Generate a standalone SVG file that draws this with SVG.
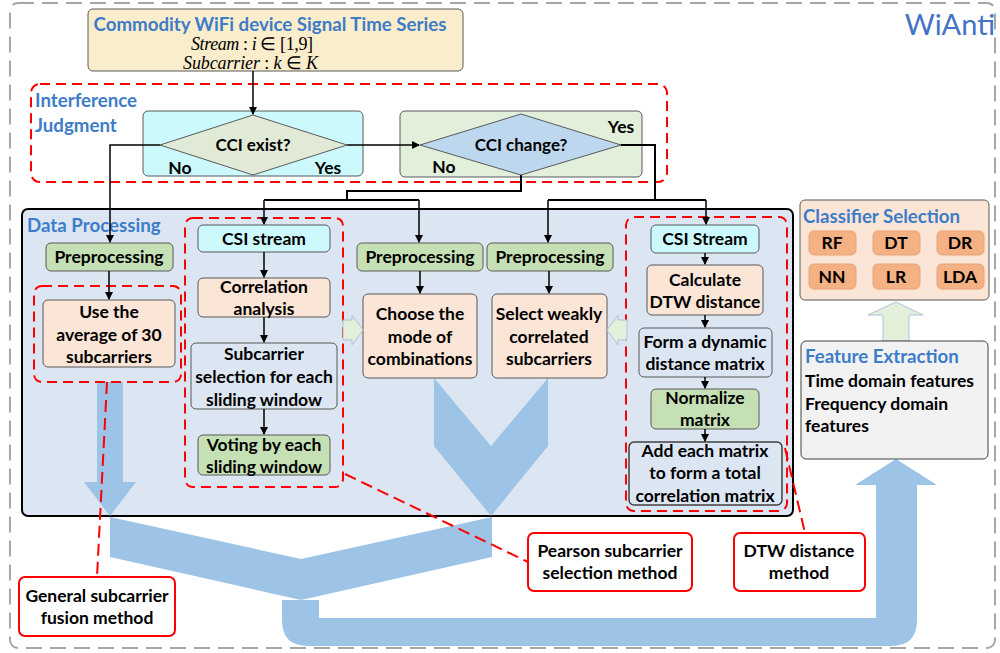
<svg xmlns="http://www.w3.org/2000/svg" width="1000" height="653" viewBox="0 0 1000 653">
<defs>
<marker id="ah" markerWidth="8" markerHeight="8" refX="7" refY="4" orient="auto" markerUnits="userSpaceOnUse">
<path d="M0,0 L8,4 L0,8 Z" fill="#000"/>
</marker>
<style>
.t{font-family:Lato,'Liberation Sans',sans-serif;font-weight:bold;font-size:17.5px;fill:#000;text-anchor:middle}
.l{text-anchor:start}
.h{font-family:Lato,'Liberation Sans',sans-serif;font-weight:bold;font-size:18.7px;fill:#3D7CC9}
.rd{fill:none;stroke:#FF0000;stroke-width:2;stroke-dasharray:10 6}
.b{stroke:#595959;stroke-width:1}
.cy{fill:#CCFAFC}
.pe{fill:#FBE5D6}
.gr{fill:#C5E0B4}
.lb{fill:#DCE6F2}
.ln{stroke:#000;stroke-width:2;fill:none}
.sl{stroke:#000;stroke-width:1.5;fill:none;marker-end:url(#ah)}
.blue{fill:#9DC3E6}
.ga{fill:#E2F0D9;stroke:#A9C4DE;stroke-width:1}
.co{fill:#fff;stroke:#FF0000;stroke-width:2}
.cl{stroke:#FF0000;stroke-width:2;stroke-dasharray:12 6;fill:none}
.mth{font-family:'Liberation Serif',serif;font-size:18px;fill:#000;text-anchor:start}
</style>
</defs>
<rect x="10" y="3" width="985" height="645" rx="8" fill="#fff" stroke="#A6A6A6" stroke-width="2" stroke-dasharray="16 8"/>
<text x="995" y="35" font-family="Lato,'Liberation Sans',sans-serif" font-size="29" fill="#4472C4" text-anchor="end">WiAnti</text>

<g id="bottom-flow">
<path class="blue" d="M110,517 L301,559 L492,517 L492,557 L301,600 L110,557 Z"/>
<path class="blue" d="M282,600 L319,600 L319,618 L876,618 L876,485 L855,485 L896,459 L937,485 L917,485 L917,620 Q917,646 891,646 L308,646 Q282,646 282,620 Z"/>
</g>

<g id="source">
<rect x="88" y="9" width="375" height="62" rx="5" fill="#FAEDCB" class="b"/>
<text class="h" x="270" y="31" text-anchor="middle">Commodity WiFi device Signal Time Series</text>
<text class="mth" x="191" y="50" textLength="122"><tspan font-style="italic">Stream</tspan> : <tspan font-style="italic">i</tspan> ∈ [1,9]</text>
<text class="mth" x="183" y="69" textLength="135"><tspan font-style="italic">Subcarrier</tspan> : <tspan font-style="italic">k</tspan> ∈ <tspan font-style="italic">K</tspan></text>
</g>

<g id="interference-judgment">
<rect class="rd" x="31" y="84" width="636" height="98" rx="9"/>
<text class="h" x="35" y="107">Interference</text>
<text class="h" x="35" y="132">Judgment</text>
</g>

<g id="cci-exist">
<rect x="143" y="111" width="220" height="65" rx="5" class="b cy"/>
<polygon points="160,145 253,115 347,145 253,175" fill="#E0EAD6" stroke="#595959" stroke-width="1"/>
<text class="t" x="253" y="151" style="font-size:17px">CCI exist?</text>
<text class="t" x="180" y="174">No</text>
<text class="t" x="328" y="174">Yes</text>
</g>

<g id="cci-change">
<rect x="400" y="111" width="242" height="66" rx="5" class="b" fill="#E2EFDA"/>
<polygon points="420,145 521,114 621,145 521,175" fill="#BDD7EE" stroke="#595959" stroke-width="1"/>
<text class="t" x="521" y="151" style="font-size:17px">CCI change?</text>
<text class="t" x="621" y="133">Yes</text>
<text class="t" x="444" y="173">No</text>
</g>

<g id="data-processing">
<rect x="22" y="209" width="771" height="307" rx="6" fill="#DCE6F2" stroke="#000" stroke-width="2"/>
<text class="h" x="27" y="232">Data Processing</text>
</g>

<g id="blue-arrows">
<path class="blue" d="M97,382 L123,382 L123,482 L136,482 L110,516 L84,482 L97,482 Z"/>
<path class="blue" d="M434,378 L491,446 L548,378 L548,446 L491,516 L434,446 Z"/>
</g>

<g id="fusion-group">
<rect class="rd" x="34" y="286" width="147" height="96" rx="8"/>
<rect x="46" y="243" width="127" height="28" rx="5" class="b gr"/>
<text class="t" x="109" y="263">Preprocessing</text>
<rect x="43" y="300" width="132" height="67" rx="5" class="b pe"/>
<text class="t" x="109" y="318">Use the</text>
<text class="t" x="109" y="341">average of 30</text>
<text class="t" x="109" y="363">subcarriers</text>
</g>

<g id="pearson-group">
<rect class="rd" x="185" y="218" width="158" height="269" rx="8"/>
<rect x="198" y="225" width="132" height="27" rx="5" class="b cy"/>
<text class="t" x="264" y="245">CSI stream</text>
<rect x="198" y="278" width="132" height="39" rx="5" class="b pe"/>
<text class="t" x="264" y="293">Correlation</text>
<text class="t" x="264" y="315">analysis</text>
<rect x="191" y="343" width="146" height="66" rx="5" class="b lb"/>
<text class="t" x="264" y="360">Subcarrier</text>
<text class="t" x="264" y="383">selection for each</text>
<text class="t" x="264" y="406">sliding window</text>
<rect x="198" y="435" width="132" height="40" rx="5" class="b gr"/>
<text class="t" x="264" y="451">Voting by each</text>
<text class="t" x="264" y="473">sliding window</text>
</g>

<g id="combination-group">
<rect x="357" y="243" width="126" height="28" rx="5" class="b gr"/>
<text class="t" x="420" y="263">Preprocessing</text>
<rect x="363" y="294" width="114" height="84" rx="5" class="b pe"/>
<text class="t" x="420" y="320">Choose the</text>
<text class="t" x="420" y="343">mode of</text>
<text class="t" x="420" y="365">combinations</text>
</g>

<g id="weak-group">
<rect x="487" y="243" width="126" height="28" rx="5" class="b gr"/>
<text class="t" x="550" y="263">Preprocessing</text>
<rect x="492" y="294" width="115" height="84" rx="5" class="b pe"/>
<text class="t" x="549" y="320">Select weakly</text>
<text class="t" x="549" y="343">correlated</text>
<text class="t" x="549" y="365">subcarriers</text>
</g>

<g id="dtw-group">
<rect class="rd" x="626" y="217" width="161" height="294" rx="8"/>
<rect x="651" y="225" width="108" height="28" rx="5" class="b cy"/>
<text class="t" x="705" y="245">CSI Stream</text>
<rect x="647" y="265" width="116" height="50" rx="5" class="b pe"/>
<text class="t" x="705" y="286">Calculate</text>
<text class="t" x="705" y="308">DTW distance</text>
<rect x="639" y="328" width="133" height="49" rx="5" class="b lb"/>
<text class="t" x="705" y="348">Form a dynamic</text>
<text class="t" x="705" y="370">distance matrix</text>
<rect x="651" y="389" width="108" height="40" rx="5" class="b gr"/>
<text class="t" x="705" y="404">Normalize</text>
<text class="t" x="705" y="426">matrix</text>
<rect x="629" y="442" width="153" height="63" rx="5" class="lb" stroke="#404040" stroke-width="1.5"/>
<text class="t" x="705" y="457">Add each matrix</text>
<text class="t" x="705" y="479">to form a total</text>
<text class="t" x="705" y="502">correlation matrix</text>
</g>

<g id="side-arrows">
<polygon class="ga" points="343,320 352,320 352,315 363,330 352,345 352,340 343,340"/>
<polygon class="ga" points="627,320 618,320 618,315 607,330 618,345 618,340 627,340"/>
<polygon class="ga" points="883,341 883,315 868,315 896,302 923,315 909,315 909,341"/>
</g>

<g id="classifier-selection">
<rect x="800" y="200" width="189" height="100" rx="5" class="b pe"/>
<text class="h" x="803" y="223">Classifier Selection</text>
<g fill="#F4B183" stroke="#E6A57A" stroke-width="1">
<rect x="809" y="231" width="47" height="24" rx="5"/>
<rect x="873" y="231" width="47" height="24" rx="5"/>
<rect x="937" y="231" width="47" height="24" rx="5"/>
<rect x="809" y="264" width="47" height="25" rx="5"/>
<rect x="873" y="264" width="47" height="25" rx="5"/>
<rect x="937" y="264" width="47" height="25" rx="5"/>
</g>
<text class="t" x="832" y="249">RF</text>
<text class="t" x="896" y="249">DT</text>
<text class="t" x="960" y="249">DR</text>
<text class="t" x="832" y="283">NN</text>
<text class="t" x="896" y="283">LR</text>
<text class="t" x="960" y="283">LDA</text>
</g>

<g id="feature-extraction">
<rect x="801" y="341" width="187" height="118" rx="5" fill="#F2F2F2" stroke="#404040" stroke-width="1"/>
<text class="h" x="805" y="363">Feature Extraction</text>
<text class="t l" x="805" y="387">Time domain features</text>
<text class="t l" x="805" y="410">Frequency domain</text>
<text class="t l" x="805" y="432">features</text>
</g>

<g id="connectors">
<line class="sl" x1="253" y1="71" x2="253" y2="114"/>
<line class="sl" x1="347" y1="145" x2="419" y2="145"/>
<polyline class="sl" points="160,145 110,145 110,242"/>
<polyline class="ln" points="521,175 521,191 347,191 347,200"/>
<polyline class="ln" points="264,200 419,200"/>
<line class="sl" x1="264" y1="200" x2="264" y2="224"/>
<line class="sl" x1="419" y1="200" x2="419" y2="242"/>
<polyline class="ln" points="621,145 655,145 655,200"/>
<polyline class="ln" points="548,200 706,200"/>
<line class="sl" x1="548" y1="200" x2="548" y2="242"/>
<line class="sl" x1="706" y1="200" x2="706" y2="224"/>
<line class="sl" x1="109" y1="271" x2="109" y2="299"/>
<line class="sl" x1="264" y1="252" x2="264" y2="277"/>
<line class="sl" x1="264" y1="317" x2="264" y2="342"/>
<line class="sl" x1="264" y1="409" x2="264" y2="434"/>
<line class="sl" x1="420" y1="271" x2="420" y2="293"/>
<line class="sl" x1="549" y1="271" x2="549" y2="293"/>
<line class="sl" x1="705" y1="253" x2="705" y2="264"/>
<line class="sl" x1="705" y1="315" x2="705" y2="327"/>
<line class="sl" x1="705" y1="377" x2="705" y2="388"/>
<line class="sl" x1="705" y1="429" x2="705" y2="441"/>
</g>

<g id="callout-lines">
<line class="cl" x1="107" y1="382" x2="97" y2="577"/>
<line class="cl" x1="345" y1="474" x2="528" y2="562"/>
<line class="cl" x1="785" y1="448" x2="805" y2="533"/>
</g>

<g id="callout-general">
<rect class="co" x="19" y="577" width="156" height="59" rx="6"/>
<text class="t" x="97" y="602">General subcarrier</text>
<text class="t" x="97" y="624">fusion method</text>
</g>
<g id="callout-pearson">
<rect class="co" x="528" y="533" width="164" height="58" rx="6"/>
<text class="t" x="610" y="557">Pearson subcarrier</text>
<text class="t" x="610" y="579">selection method</text>
</g>
<g id="callout-dtw">
<rect class="co" x="734" y="533" width="131" height="58" rx="6"/>
<text class="t" x="799" y="557">DTW distance</text>
<text class="t" x="799" y="579">method</text>
</g>
</svg>
